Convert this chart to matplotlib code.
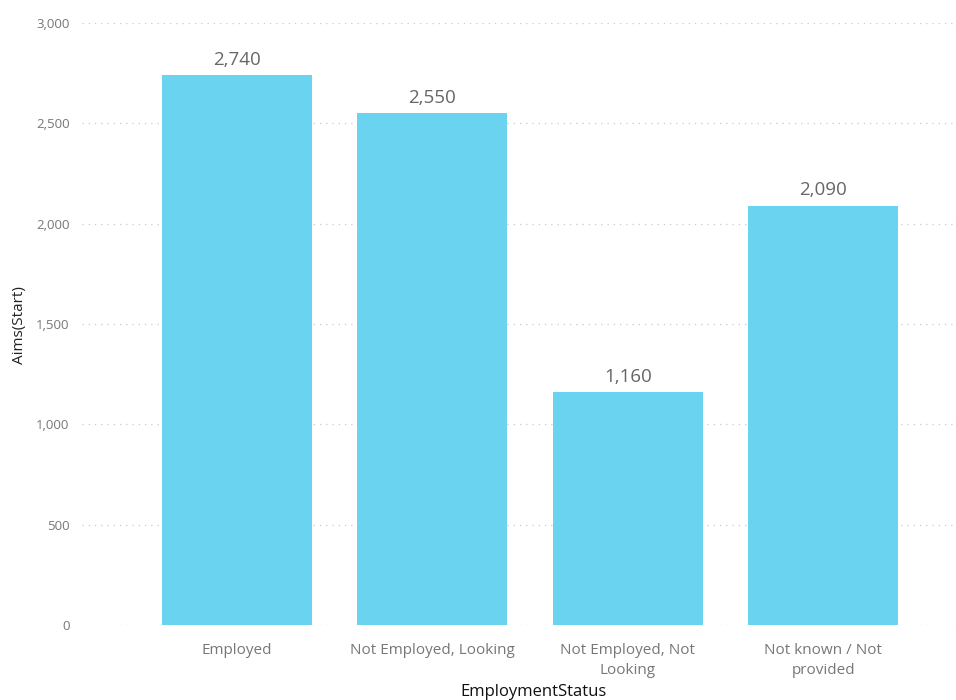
import numpy as np
import matplotlib.pyplot as plt

# dados
categorias = ["Employed", "Not Employed, Looking", "Not Employed, Not\nLooking", "Not known / Not\nprovided"]
valores = [2740, 2550, 1160, 2090]
yticks = [0, 500, 1000, 1500, 2000, 2500, 3000]

cor_barra = "#6AD3F0"
cor_texto = "#777777"

plt.rcParams["font.family"] = ["Open Sans", "DejaVu Sans"]

fig = plt.figure(figsize=(9.56, 7.0), dpi=100)
ax = fig.add_axes([0.0858, 0.1071, 0.914, 0.860])

x = np.arange(len(categorias))
barras = ax.bar(x, valores, width=0.767, color=cor_barra, zorder=2)

for xi, v in zip(x, valores):
    ax.annotate(f"{v:,}", (xi, v), xytext=(0, 4.5), textcoords="offset points",
                ha="center", va="bottom", fontsize=13.5, color="#666666")

ax.set_xlim(-0.793, 3.678)
ax.set_ylim(0, 3000)
ax.set_yticks(yticks)
ax.set_yticklabels([f"{t:,}" for t in yticks])
ax.set_xticks(x)
ax.set_xticklabels(categorias, linespacing=1.45)

ax.tick_params(axis="y", length=0, pad=9, labelsize=9.5, labelcolor=cor_texto)
ax.tick_params(axis="x", length=0, pad=13, labelsize=11, labelcolor=cor_texto)

ax.grid(axis="y", linestyle=(0, (1, 4)), color="#c8c8c8", linewidth=0.9, zorder=0)
for lado in ax.spines.values():
    lado.set_visible(False)

fig.text(20 / 956, 1 - 325 / 700, "Aims(Start)", rotation=90, ha="center", va="center",
         fontsize=11, color="#222222")
fig.text(533 / 956, 1 - 692 / 700, "EmploymentStatus", ha="center", va="center",
         fontsize=12, color="#111111")

fig.savefig("out.png", dpi=100)
